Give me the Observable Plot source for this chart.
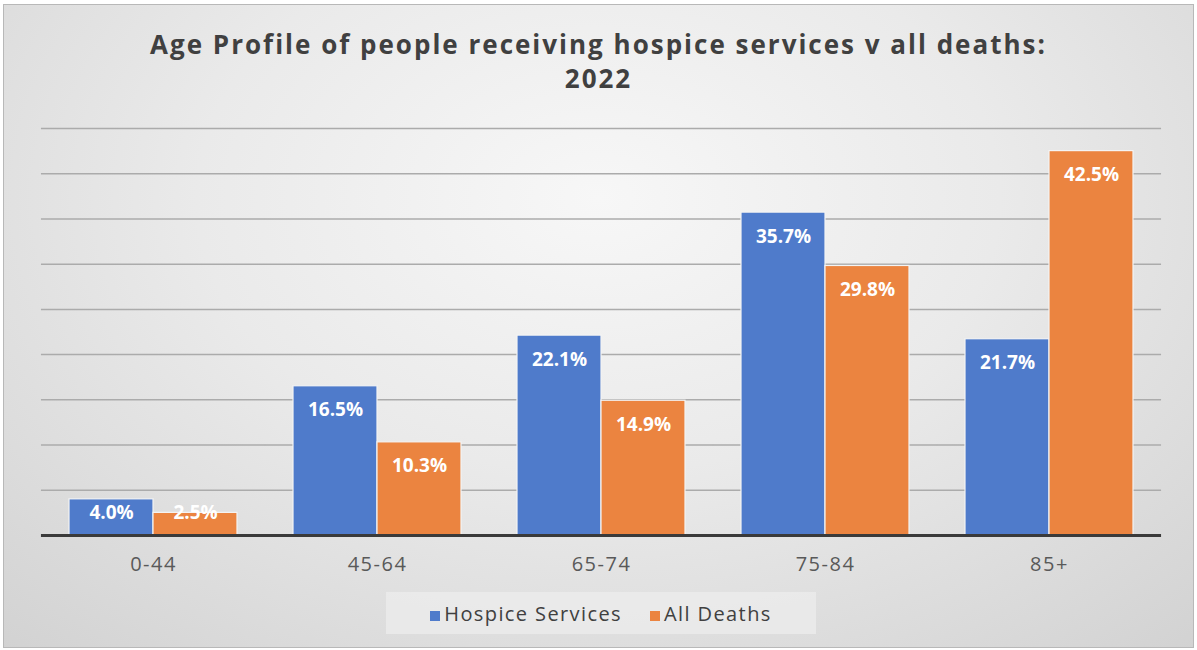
<!DOCTYPE html>
<html>
<head>
<meta charset="utf-8">
<script src="https://cdn.jsdelivr.net/npm/d3@7"></script>
<script src="https://cdn.jsdelivr.net/npm/@observablehq/plot@0.6"></script>
<style>
  html, body { margin: 0; padding: 0; background: #ffffff; }
  #chart {
    position: relative;
    width: 1189px; height: 642px;
    margin: 4px 0 0 3px;
    border: 1px solid #b8b8b8;
    background: radial-gradient(ellipse 75% 95% at 50% 30%, #f7f7f7 0%, #eaeaea 45%, #d2d2d2 100%);
    font-family: "Open Sans", "DejaVu Sans", sans-serif;
    overflow: hidden;
  }
  #title {
    position: absolute; left: 0; top: 22px; width: 100%;
    text-align: center; font-weight: bold; font-size: 26px; line-height: 34px;
    letter-spacing: 2px;
    color: #404040;
  }
  #plot { position: absolute; left: -4px; top: 95px; width: 1197px; }
  #plot svg { max-width: none !important; }
  #legend {
    position: absolute; left: 382px; top: 587px; width: 430px; height: 42px;
    background: rgba(235,235,235,0.85);
    display: flex; align-items: center; justify-content: center; gap: 28px;
    font-size: 20px; letter-spacing: 1.4px; color: #404040;
  }
  #legend span.sw { display: inline-block; width: 10px; height: 10px; margin-right: 4px; }
</style>
</head>
<body>
<div id="chart">
  <div id="title">Age Profile of people receiving hospice services v all deaths:<br>2022</div>
  <div id="plot"></div>
  <div id="legend"></div>
</div>
<script>
const categories = ["0-44", "45-64", "65-74", "75-84", "85+"];
const seriesNames = ["Hospice Services", "All Deaths"];
const hospice = [4.0, 16.5, 22.1, 35.7, 21.7];
const allDeaths = [2.5, 10.3, 14.9, 29.8, 42.5];
const colors = ["#4f7bcb", "#eb8440"];
const gridTicks = [5, 10, 15, 20, 25, 30, 35, 40, 45];

const rows = [];
categories.forEach((c, i) => {
  rows.push({age: c, series: seriesNames[0], value: hospice[i]});
  rows.push({age: c, series: seriesNames[1], value: allDeaths[i]});
});

const W = 1197, ML = 40, MR = 35;
const fxScale = Plot.scale({fx: {type: "band", domain: categories, range: [ML, W - MR], paddingInner: 0.25, paddingOuter: 0.125}});
// half of the gap between facets (equals the outer padding here), so rules span the whole frame
const ext = -(fxScale.step - fxScale.bandwidth) / 2;
// inside-end labels are kept from dropping below the axis on very short bars
const labelFloor = 5.2;

const chart = Plot.plot({
  width: W,
  height: 480,
  marginLeft: ML,
  marginRight: MR,
  marginTop: 28,
  marginBottom: 45,
  style: {background: "transparent", fontFamily: "'Open Sans', 'DejaVu Sans', sans-serif", overflow: "visible"},
  fx: {domain: categories, paddingInner: 0.25, paddingOuter: 0.125, label: null, axis: null},
  x: {domain: seriesNames, padding: 0, axis: null},
  y: {domain: [0, 45], axis: null},
  color: {domain: seriesNames, range: colors},
  marks: [
    Plot.ruleY(gridTicks, {stroke: "#ababab", strokeWidth: 1.5, insetLeft: ext, insetRight: ext}),
    Plot.barY(rows, {fx: "age", x: "series", y: "value", fill: "series", stroke: "#f4f4f4", strokeWidth: 1.2}),
    Plot.text(rows, {fx: "age", x: "series", y: d => Math.max(d.value, labelFloor), text: d => d.value.toFixed(1) + "%", dy: 24, fill: "white", fontWeight: "bold", fontSize: 19, style: "letter-spacing:1.2px"}),
    Plot.ruleY([0], {stroke: "#3a3a3a", strokeWidth: 3, insetLeft: ext, insetRight: ext}),
    Plot.axisFx({anchor: "bottom", tickSize: 0, tickPadding: 21, fontSize: 20, fill: "#595959", label: null})
  ]
});
chart.querySelectorAll('g[aria-label="fx-axis tick label"]').forEach(g => g.setAttribute("letter-spacing", "1.5"));
document.getElementById("plot").appendChild(chart);

const legend = document.getElementById("legend");
seriesNames.forEach((s, i) => {
  const item = document.createElement("div");
  item.innerHTML = `<span class="sw" style="background:${colors[i]}"></span>${s}`;
  legend.appendChild(item);
});
</script>
</body>
</html>
